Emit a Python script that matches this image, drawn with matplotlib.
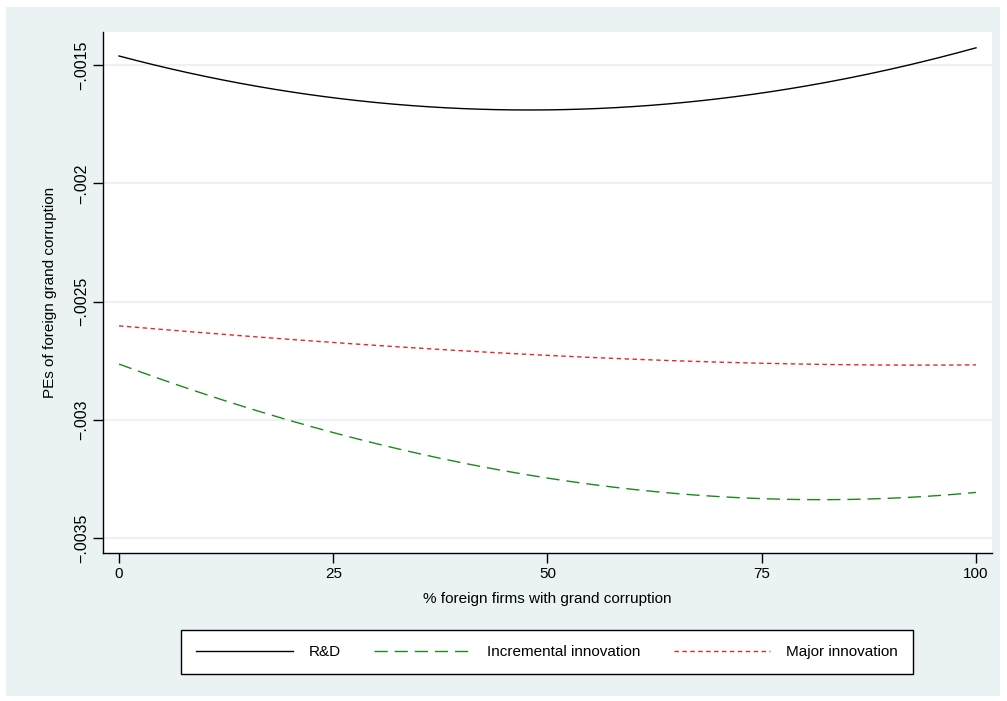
import numpy as np
from matplotlib import pyplot as plt
from matplotlib.patches import Rectangle

plt.rcParams['font.family'] = ['Liberation Sans', 'DejaVu Sans']

# share of foreign firms with grand corruption (%)
pct = [0, 10, 20, 30, 40, 50, 60, 70, 80, 90, 100]

# predicted effects
rd = [-0.001462, -0.001547, -0.001612, -0.001658, -0.001684, -0.001690,
      -0.001676, -0.001642, -0.001589, -0.001516, -0.001428]
incremental = [-0.002768, -0.002886, -0.003001, -0.003102, -0.003182, -0.003250,
               -0.003296, -0.003322, -0.003335, -0.003330, -0.003309]
major = [-0.002603, -0.002633, -0.002658, -0.002684, -0.002709, -0.002730,
         -0.002743, -0.002755, -0.002764, -0.002768, -0.002768]

xticks = [0, 25, 50, 75, 100]
yticks = [-0.0035, -0.003, -0.0025, -0.002, -0.0015]
ylabels = ['\u2212.0035', '\u2212.003', '\u2212.0025', '\u2212.002', '\u2212.0015']

bg = '#eaf2f3'
fs = 11

fig = plt.figure(figsize=(10.07, 7.01), dpi=100)
fig.patches.append(Rectangle((6 / 1007, 1 - 696 / 701), 994 / 1007, 689 / 701,
                             transform=fig.transFigure, facecolor=bg,
                             edgecolor='none', zorder=-5))

ax = fig.add_axes([103 / 1007, 1 - 553 / 701, 889 / 1007, 521 / 701])
ax.set_facecolor('white')

# smooth the read points for drawing
xs = np.linspace(0, 100, 201)
for vals, col, ls, lab in [(rd, 'black', '-', 'R&D'),
                           (incremental, '#1a8a1a', (0, (9.5, 5)), 'Incremental innovation'),
                           (major, '#e8262a', (0, (3.2, 2.5)), 'Major innovation')]:
    coef = np.polyfit(pct, vals, 3)
    ax.plot(xs, np.polyval(coef, xs), color=col, ls=ls, lw=1.0, label=lab)

ax.set_xlim(-1.87, 101.87)
ax.set_ylim(-0.003563, -0.00136)
ax.set_xticks(xticks)
ax.set_xticklabels([str(t) for t in xticks], fontsize=fs)
ax.set_yticks(yticks)
ax.set_yticklabels(ylabels, fontsize=fs + 0.5, rotation=90, va='center')
ax.grid(axis='y', color=bg, lw=1.5)
ax.set_axisbelow(True)
for s in ['top', 'right']:
    ax.spines[s].set_visible(False)
for s in ['left', 'bottom']:
    ax.spines[s].set_linewidth(1.0)
ax.tick_params(direction='out', length=7, width=1.0, pad=3)
ax.set_xlabel('% foreign firms with grand corruption', fontsize=fs, labelpad=8)
ax.set_ylabel('PEs of foreign grand corruption', fontsize=fs, labelpad=12)

leg = fig.legend(loc='center', bbox_to_anchor=(547 / 1007, 1 - 652 / 701),
                 ncol=3, fontsize=fs, frameon=True, fancybox=False,
                 framealpha=1, handlelength=6.3, handletextpad=1.05,
                 columnspacing=2.2, borderpad=1.0, edgecolor='black')
leg.get_frame().set_linewidth(1.0)

fig.savefig('out.png', dpi=100)
